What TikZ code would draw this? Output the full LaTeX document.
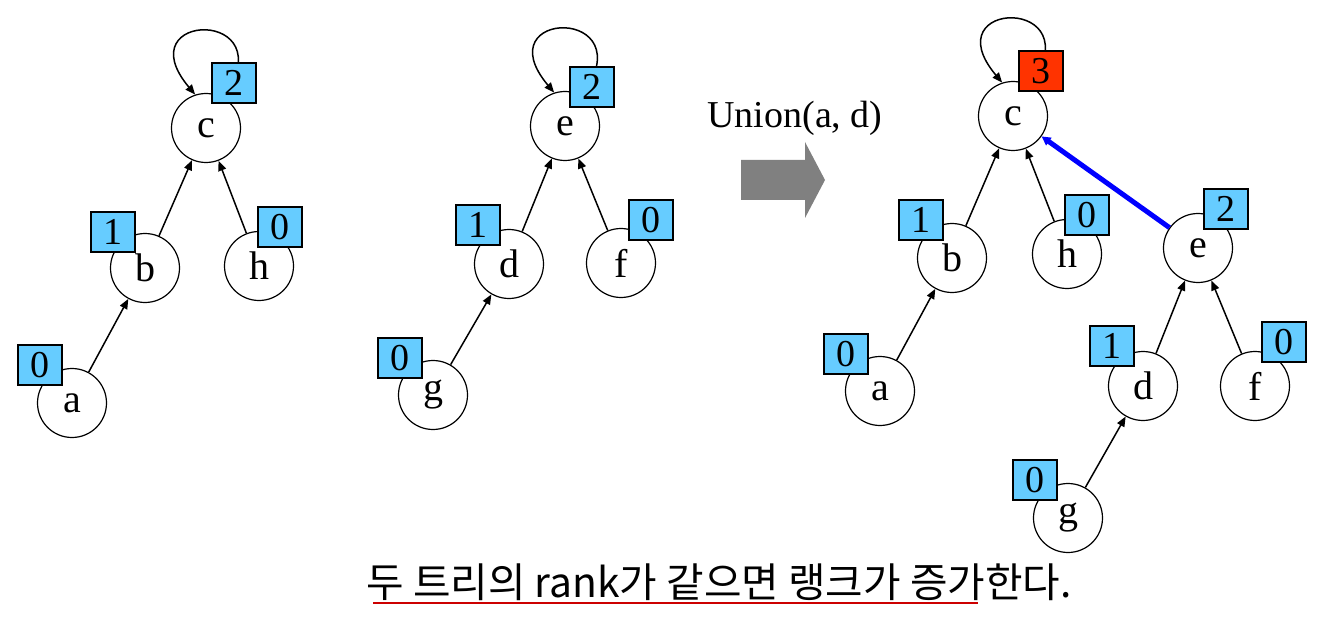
\documentclass[tikz,border=0pt]{standalone}
\usepackage{fontspec}
\setmainfont{Liberation Serif}
\newfontfamily\kofont{Noto Sans CJK KR}
\usetikzlibrary{arrows.meta}

\definecolor{rankblue}{HTML}{66CCFF}
\definecolor{rankred}{HTML}{FF3300}
\definecolor{arrowgray}{HTML}{808080}
\definecolor{ulred}{HTML}{CC0000}

\begin{document}
\begin{tikzpicture}[
    x=0.5pt, y=0.5pt,
    % Styles
    vtx/.style={
        draw, circle, line width=0.6pt, fill=white, minimum size=34.5pt, inner sep=0pt,
        font=\fontsize{20}{24}\selectfont
    },
    rankbox/.style={
        draw, fill=rankblue, line width=0.6pt, minimum width=22pt, minimum height=20pt, inner sep=0pt,
        font=\fontsize{19}{22}\selectfont
    },
    edge/.style={-{Triangle[length=5pt,width=4pt]}, line width=0.75pt},
    selfloop/.style={-{Triangle[length=5pt,width=4pt]}, line width=0.75pt},
    unionedge/.style={-{Triangle[length=4.5pt,width=4.5pt]}, line width=2.5pt, blue}
]
    \useasboundingbox (0,0) rectangle (1324,-626);

    % --- TREE 1 (root c) ---
    \node[vtx] (c1) at (206,-128) {c};
    \node[vtx] (b1) at (145,-268) {b};
    \node[vtx] (h1) at (259,-266) {h};
    \node[vtx] (a1) at (72,-403) {a};

    % --- TREE 2 (root e) ---
    \node[vtx] (e2) at (565,-126) {e};
    \node[vtx] (d2) at (509,-264) {d};
    \node[vtx] (f2) at (621,-263) {f};
    \node[vtx] (g2) at (433,-395) {g};

    % --- UNION ---
    \node[anchor=base, font=\fontsize{19}{23}\selectfont] (union) at (795,-128) {Union(a, d)};
    \fill[arrowgray] (741,-160) -- (805,-160) -- (805,-142) -- (825,-180)
        -- (805,-218) -- (805,-200) -- (741,-200) -- cycle;

    % --- TREE 3 (merged, root c) ---
    \node[vtx] (c3) at (1013,-116) {c};
    \node[vtx] (b3) at (952,-258) {b};
    \node[vtx] (h3) at (1067,-254) {h};
    \node[vtx] (a3) at (880,-391) {a};
    \node[vtx] (e3) at (1198,-248) {e};
    \node[vtx] (d3) at (1143,-386) {d};
    \node[vtx] (f3) at (1255,-386) {f};
    \node[vtx] (g3) at (1068,-518) {g};

    % --- CONNECTIONS ---
    \draw[edge] (b1) -- (c1);
    \draw[edge] (h1) -- (c1);
    \draw[edge] (a1) -- (b1);

    \draw[edge] (d2) -- (e2);
    \draw[edge] (f2) -- (e2);
    \draw[edge] (g2) -- (d2);

    \draw[edge] (b3) -- (c3);
    \draw[edge] (h3) -- (c3);
    \draw[edge] (a3) -- (b3);
    \draw[edge] (d3) -- (e3);
    \draw[edge] (f3) -- (e3);
    \draw[edge] (g3) -- (d3);
    \draw[unionedge] (e3) -- (c3);

    % Root self-loops
    \draw[selfloop] (c1.60) .. controls +(55:110) and +(130:110) .. (c1.108);
    \draw[selfloop] (e2.60) .. controls +(55:110) and +(130:110) .. (e2.108);
    \draw[selfloop] (c3.60) .. controls +(55:110) and +(130:110) .. (c3.108);

    % --- RANKS ---
    \node[rankbox] (rc1) at (234,-83) {2};
    \node[rankbox] (rb1) at (113,-232) {1};
    \node[rankbox] (rh1) at (280,-227) {0};
    \node[rankbox] (ra1) at (40,-365) {0};

    \node[rankbox] (re2) at (592,-87) {2};
    \node[rankbox] (rd2) at (478,-225) {1};
    \node[rankbox] (rf2) at (651,-220) {0};
    \node[rankbox] (rg2) at (400,-358) {0};

    \node[rankbox, fill=rankred] (rc3) at (1041,-71) {3};
    \node[rankbox] (rb3) at (921,-220) {1};
    \node[rankbox] (rh3) at (1087,-215) {0};
    \node[rankbox] (ra3) at (846,-354) {0};
    \node[rankbox] (re3) at (1226,-209) {2};
    \node[rankbox] (rd3) at (1112,-346) {1};
    \node[rankbox] (rf3) at (1284,-342) {0};
    \node[rankbox] (rg3) at (1035,-480) {0};

    % --- CAPTION ---
    \node[anchor=base, font=\kofont\fontsize{20.4}{24}\selectfont] (caption) at (719,-597)
        {두 트리의 rank가 같으면 랭크가 증가한다.};
    \coordinate (ulA) at (373,-603);
    \coordinate (ulB) at (978,-603);
    \draw[ulred, line width=0.9pt] (ulA) -- (ulB);

\end{tikzpicture}
\end{document}
